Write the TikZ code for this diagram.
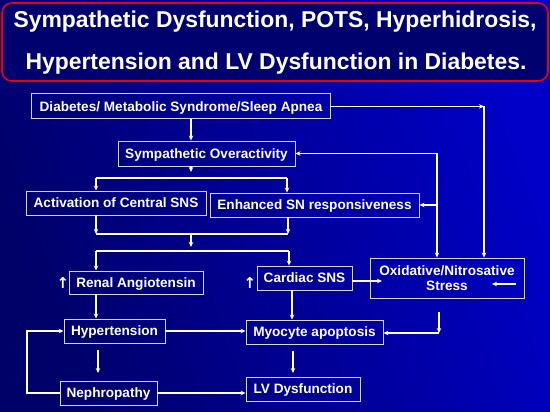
\documentclass[tikz,border=0pt]{standalone}
\usepackage{fontspec}
\setmainfont{Liberation Sans}
\newfontfamily\symfont{DejaVu Sans}
\usetikzlibrary{arrows.meta}
\definecolor{bgdark}{RGB}{0,0,105}
\definecolor{bglight}{RGB}{0,0,200}
\definecolor{titlefill}{RGB}{0,0,110}
\definecolor{titlered}{RGB}{230,0,20}
\definecolor{boxline}{RGB}{215,215,240}
\tikzset{
  boxbase/.style={draw=boxline, line width=0.9pt, inner sep=0pt, text=white,
    font=\fontsize{13.6}{15}\selectfont\bfseries},
  box/.style={boxbase, text height=9.8pt, text depth=0pt},
  arr/.style={white, line width=1.4pt, -{Stealth[length=5pt,width=4.5pt]}},
  ln/.style={white, line width=1.4pt},
  upsym/.style={text=white, font=\symfont\bfseries\fontsize{15}{15}\selectfont, inner sep=0pt},
  titletext/.style={text=white, font=\fontsize{22.9}{26}\selectfont\bfseries, inner sep=0pt}
}
\begin{document}
\begin{tikzpicture}[x=1pt,y=-1pt]
\useasboundingbox (0,0) rectangle (550,412);
\shade[left color=bgdark, right color=bglight, shading angle=110] (0,0) rectangle (550,412);
% title
\draw[titlered, line width=1.6pt, fill=titlefill, rounded corners=10pt] (2,3) rectangle (548,81);
\node[titletext] (t1) at (275,22) {Sympathetic Dysfunction, POTS, Hyperhidrosis,};
\node[titletext] (t2) at (276,64) {Hypertension and LV Dysfunction in Diabetes.};
% boxes
\node[box, minimum width=299pt, minimum height=25pt] (diab) at (181,106.4) {Diabetes/ Metabolic Syndrome/Sleep Apnea};
\node[box, minimum width=177pt, minimum height=25pt] (symp) at (206.5,153.5) {Sympathetic Overactivity};
\node[box, minimum width=180pt, minimum height=24pt] (act) at (116,203) {Activation of Central SNS};
\node[box, minimum width=209pt, minimum height=24pt] (enh) at (314.5,205) {Enhanced SN responsiveness};
\node[box, minimum width=134pt, minimum height=23pt] (renal) at (136,282.5) {Renal Angiotensin};
\node[box, minimum width=95pt, minimum height=24pt] (card) at (304.5,278) {Cardiac SNS};
\node[boxbase, align=center, minimum width=154pt, minimum height=40pt] (oxi) at (447,278) {Oxidative/Nitrosative\\Stress};
\node[box, minimum width=101pt, minimum height=24pt] (hyp) at (114.5,331) {Hypertension};
\node[box, minimum width=97pt, minimum height=24pt] (neph) at (108.5,393) {Nephropathy};
\node[box, minimum width=137pt, minimum height=24pt] (myo) at (314.5,332) {Myocyte apoptosis};
\node[box, minimum width=114pt, minimum height=24pt] (lv) at (303,389) {LV Dysfunction};
\node[upsym] (up1) at (63,283) {↑};
\node[upsym] (up2) at (250,283) {↑};
% helper coordinates
\coordinate (c191) at (191,0);
\coordinate (c484) at (484,0);
\coordinate (c437) at (437,0);
\coordinate (j1) at (191,172);
\coordinate (j2l) at (96,178);
\coordinate (j2r) at (287,178);
\coordinate (j3l) at (96,234);
\coordinate (j3r) at (288,234);
\coordinate (j3m) at (191,234);
\coordinate (j4m) at (191,247);
\coordinate (j5l) at (96,251);
\coordinate (j5r) at (289,251);
\coordinate (ox1) at (382,281);
\coordinate (oxa) at (516,284);
\coordinate (oxb) at (492,284);
\coordinate (ob1) at (439,312);
\coordinate (ob2) at (439,333);
\coordinate (c96) at (96,0);
\coordinate (c292) at (292,0);
\coordinate (hn1) at (98,350);
\coordinate (hn2) at (98,373);
\coordinate (ml1) at (293,351);
\coordinate (ml2) at (293,373);
\coordinate (lp) at (27,0);
% connectors
\draw[arr] (diab.south -| c191) -- (symp.north -| c191);
\draw[arr] (diab.east) -- (diab.east -| c484);
\draw[arr] (diab.east -| c484) -- (oxi.north -| c484);
\draw[arr] (symp.east -| c437) -- (symp.east);
\draw[arr] (symp.east -| c437) -- (oxi.north -| c437);
\draw[arr] (enh.east -| c437) -- (enh.east);
\draw[arr] (symp.south -| j1) -- (j1);
\draw[ln] (j2l) -- (j2r);
\draw[arr] (j2l) -- (act.north -| j2l);
\draw[arr] (j2r) -- (enh.north -| j2r);
\draw[arr] (act.south -| j3l) -- (j3l);
\draw[arr] (enh.south -| j3r) -- (j3r);
\draw[ln] (j3l) -- (j3r);
\draw[arr] (j3m) -- (j4m);
\draw[ln] (j5l) -- (j5r);
\draw[arr] (j5l) -- (renal.north -| j5l);
\draw[arr] (j5r) -- (card.north -| j5r);
\draw[arr] (card.east |- ox1) -- (ox1);
\draw[arr] (oxa) -- (oxb);
\draw[arr] (renal.south -| c96) -- (hyp.north -| c96);
\draw[arr] (card.south -| c292) -- (myo.north -| c292);
\draw[arr] (ob1) -- (ob2);
\draw[arr] (ob2) -- (myo.east |- ob2);
\draw[arr] (hyp.east) -- (hyp.east -| myo.west);
\draw[arr] (hn1) -- (hn2);
\draw[arr] (neph.east) -- (neph.east -| lv.west);
\draw[arr] (neph.west) -- (neph.west -| lp) |- (hyp.west);
\draw[arr] (ml1) -- (ml2);
\end{tikzpicture}
\end{document}
